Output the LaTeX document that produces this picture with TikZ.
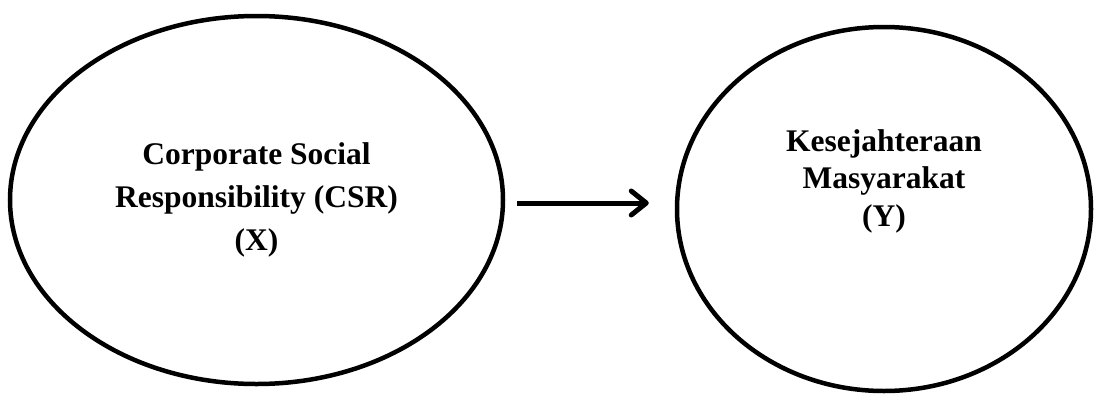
\documentclass[tikz,border=0pt]{standalone}
\usepackage{fontspec}
\setmainfont{Liberation Serif}
\usetikzlibrary{shapes.geometric,arrows.meta}

\begin{document}
\begin{tikzpicture}[x=1pt,y=-1pt]
\tikzset{var/.style={draw,ellipse,line width=4.5pt,inner sep=0pt}}
\tikzset{vartext/.style={align=center,font=\bfseries\fontsize{31.5}{43}\selectfont}}
%\tikzset{every node/.style={draw=red}}
\tikzset{pengaruh/.style={line width=5pt,-{Straight Barb[length=15pt,width=24pt,line cap=round,line join=round]}}}
\useasboundingbox (0,0) rectangle (1095,394);
\node[var,minimum width=493pt,minimum height=368pt] (csr) at (256.5,200) {};
\node[var,minimum width=414pt,minimum height=364pt] (ks) at (884,209) {};
\node[vartext] (csrtext) at (csr.center) {Corporate Social\\Responsibility (CSR)\\(X)};
\node[vartext,font=\bfseries\fontsize{31.5}{37.5}\selectfont] (kstext) at ([yshift=28pt]ks.center) {Kesejahteraan\\Masyarakat\\(Y)};
\draw[pengaruh] ([xshift=12pt,yshift=-3pt]csr.east) -- ([xshift=-26pt,yshift=-3pt]csr.east -| ks.west);
\end{tikzpicture}
\end{document}
